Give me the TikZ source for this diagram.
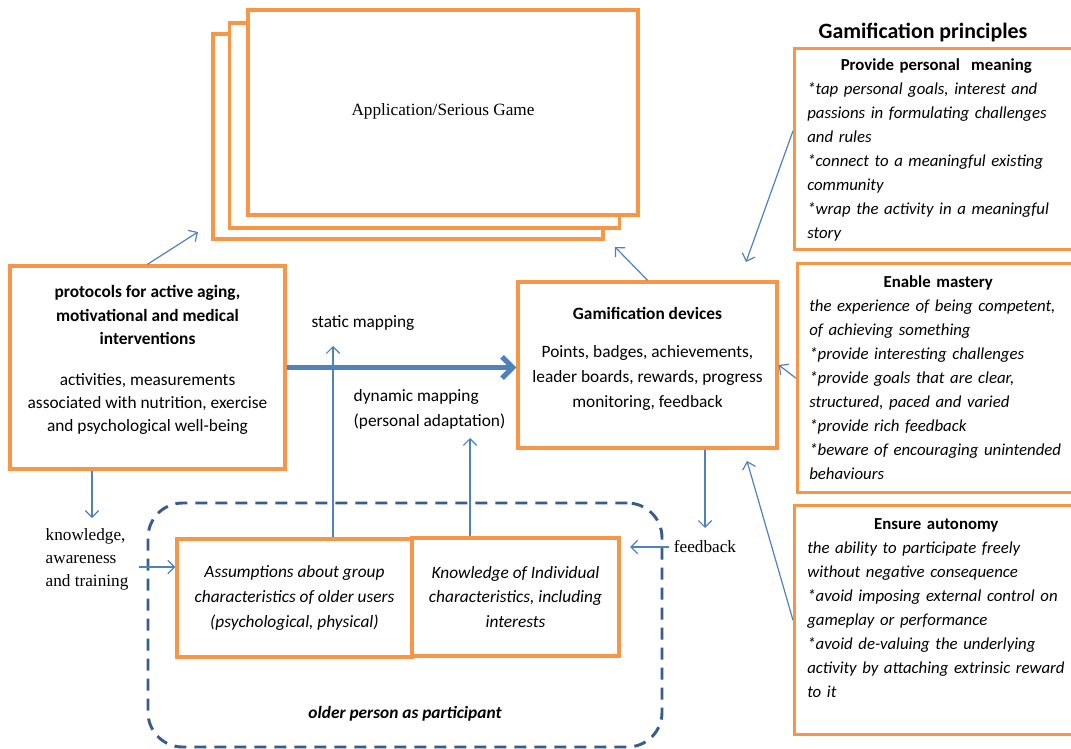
\documentclass[tikz,border=0pt]{standalone}
\usepackage{fontspec}
\setmainfont{Carlito}
\newfontfamily\timesfont{Liberation Serif}
\usetikzlibrary{positioning, calc, arrows.meta}
\definecolor{borange}{HTML}{F79646}
\definecolor{lblue}{HTML}{4F81BD}
\definecolor{dblue}{HTML}{385D8A}

\begin{document}
\begin{tikzpicture}[
    x=0.75pt, y=-0.75pt,
    box/.style={rectangle, draw=borange, line width=2.6pt, fill=white, align=center, inner sep=0pt},
    link/.style={draw=lblue, line width=0.9pt, -{Straight Barb[length=5pt, width=10pt]}},
    body/.style={font=\fontsize{13}{18.5}\selectfont},
    serif/.style={font=\timesfont\fontsize{12.9}{17.25}\selectfont},
    principle/.style={anchor=north west, text width=193.5pt, align=left, inner sep=0pt, font=\fontsize{12.6}{18}\selectfont},
]
\useasboundingbox (0,0) rectangle (1071,749);

% Nodes
\node [box, minimum width=292.5pt, minimum height=153.75pt] (app3) at (408,136.5) {};
\node [box, minimum width=292.5pt, minimum height=153.75pt] (app2) at (424.5,125.5) {};
\node [box, minimum width=292.5pt, minimum height=153.75pt, serif] (app1) at (443,112.5) {\raisebox{5pt}{Application/Serious Game}};

\node [box, minimum width=206.25pt, minimum height=152.25pt, font=\fontsize{13}{17.5}\selectfont] (protocols) at (147.5,367.5)
    {\textbf{protocols for active aging,}\\ \textbf{motivational and medical}\\ \textbf{interventions}\\[13pt]
     activities, measurements\\ associated with nutrition, exercise\\ and psychological well-being\\[-4.5pt] \mbox{}};
\node [box, minimum width=194.25pt, minimum height=124.5pt, font=\fontsize{13}{18.75}\selectfont] (devices) at (647.5,365)
    {\textbf{Gamification devices}\\[10pt] Points, badges, achievements,\\ leader boards, rewards, progress\\ monitoring, feedback\\[-7pt] \mbox{}};

\node [draw=dblue, line width=2.2pt, dash pattern=on 9pt off 6pt, rounded corners=26pt,
       minimum width=385.5pt, minimum height=183pt] (participant) at (405,625) {};
\node [box, minimum width=176.25pt, minimum height=88.5pt, font=\itshape\fontsize{13}{18.5}\selectfont] (group) at (294.5,598)
    {Assumptions about group\\ characteristics of older users\\ (psychological, physical)};
\node [box, minimum width=155.25pt, minimum height=88.5pt, font=\itshape\fontsize{13}{18.5}\selectfont] (indiv) at (515.5,597)
    {Knowledge of Individual\\ characteristics, including\\ interests};
\node [font=\bfseries\itshape\fontsize{13}{15}\selectfont] (partlabel) at (405,714) {older person as participant};

\node [serif, align=left, anchor=west] (knowledge) at (41,559) {knowledge,\\ awareness\\ and training};
\node [serif] (feedback) at (705,547) {feedback};
\node [body] (static) at (363,323) {static mapping};
\node [body, align=left, anchor=north west] (dynamic) at (349,385) {dynamic mapping\\ (personal adaptation)};

% Gamification principles
\node [font=\bfseries\fontsize{16.4}{18}\selectfont] (principles) at (923,33) {Gamification principles};
\node [box, anchor=north west, minimum width=219pt, minimum height=150.75pt] (meaning) at (793,47) {};
\node [box, anchor=north west, minimum width=216.75pt, minimum height=171.75pt] (mastery) at (796,262) {};
\node [box, anchor=north west, minimum width=219pt, minimum height=171.75pt] (autonomy) at (793,504) {};

\node [principle] (meaningtxt) at (807,58)
    {\makebox[\linewidth]{\textbf{Provide personal\ \ meaning}}\\ \itshape
     {*}tap personal goals, interest and\\ passions in formulating challenges\\ and rules\\
     {*}connect to a meaningful existing\\ community\\ {*}wrap the activity in a meaningful\\ story};
\node [principle] (masterytxt) at (809,275)
    {\makebox[\linewidth]{\textbf{Enable mastery}}\\ \itshape
     the experience of being competent,\\ of achieving something\\ {*}provide interesting challenges\\
     {*}provide goals that are clear,\\ structured, paced and varied\\ {*}provide rich feedback\\
     {*}beware of encouraging unintended\\ behaviours};
\node [principle] (autonomytxt) at (807,518)
    {\makebox[\linewidth]{\textbf{Ensure autonomy}}\\ \itshape
     the ability to participate freely\\ without negative consequence\\
     {*}avoid imposing external control on\\ gameplay or performance\\
     {*}avoid de-valuing the underlying\\ activity by attaching extrinsic reward\\ to it};

\coordinate (apptipa) at (198,232);
\coordinate (apptipb) at (615,247);
\coordinate (statictip) at (333,346);
\coordinate (dyntip) at (470,438);
\coordinate (fbtip) at (705,528);
\coordinate (ktip) at (92,518);
\coordinate (ktrain) at (139,567);
\coordinate (meaningtip) at (746,262);
\coordinate (autonomytip) at (747,461);

% Lines
\draw [link] (protocols.north) -- (apptipa);
\draw [link] (devices.north) -- (apptipb);
\draw [draw=lblue, line width=3.8pt, -{Straight Barb[length=8pt, width=16pt]}] (protocols.east) -- (protocols.east -| devices.west);
\draw [link] (group.north -| statictip) -- (statictip);
\draw [link] (indiv.north -| dyntip) -- (dyntip);
\draw [link] (devices.south -| fbtip) -- (fbtip);
\draw [link, shorten >=7pt] (feedback.west) -- (feedback.west -| indiv.east);
\draw [link] (protocols.south -| ktip) -- (ktip);
\draw [link] (ktrain) -- (ktrain -| group.west);
\draw [link] ($(meaning.north west)!0.41!(meaning.south west)$) -- (meaningtip);
\draw [link] (mastery.west) -- (devices.east);
\draw [link] (autonomy.west) -- (autonomytip);

\end{tikzpicture}
\end{document}
